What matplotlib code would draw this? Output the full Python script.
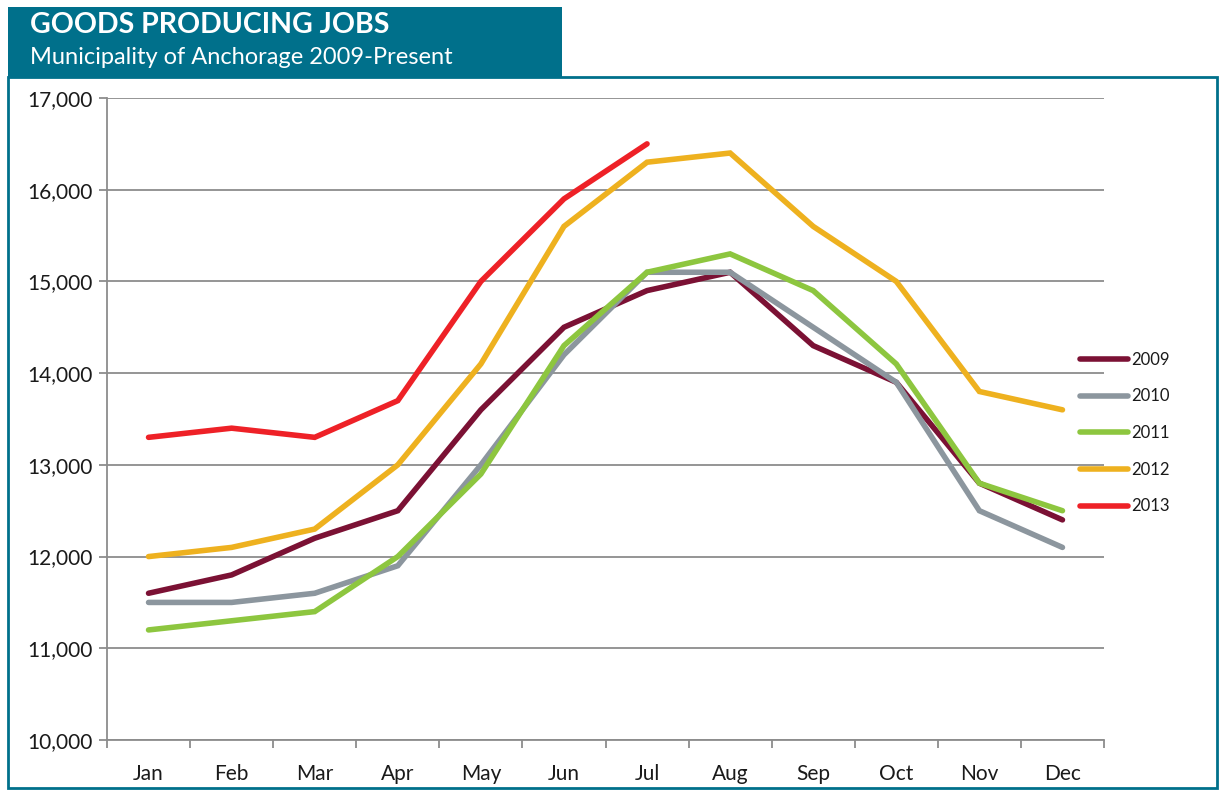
import matplotlib
matplotlib.use("Agg")
import matplotlib.pyplot as plt
from matplotlib.patches import Rectangle
from matplotlib.ticker import FuncFormatter, FixedLocator

# Daten
months = ["Jan", "Feb", "Mar", "Apr", "May", "Jun", "Jul", "Aug", "Sep", "Oct", "Nov", "Dec"]
y2009 = [11600, 11800, 12200, 12500, 13600, 14500, 14900, 15100, 14300, 13900, 12800, 12400]
y2010 = [11500, 11500, 11600, 11900, 13000, 14200, 15100, 15100, 14500, 13900, 12500, 12100]
y2011 = [11200, 11300, 11400, 12000, 12900, 14300, 15100, 15300, 14900, 14100, 12800, 12500]
y2012 = [12000, 12100, 12300, 13000, 14100, 15600, 16300, 16400, 15600, 15000, 13800, 13600]
y2013 = [13300, 13400, 13300, 13700, 15000, 15900, 16500]

series = [("2009", y2009, "#7B1134"),
          ("2010", y2010, "#8C969E"),
          ("2011", y2011, "#8DC63F"),
          ("2012", y2012, "#EEB11F"),
          ("2013", y2013, "#EE2127")]

teal = "#00708B"
plt.rcParams['font.family'] = ['Lato', 'DejaVu Sans']

fig = plt.figure(figsize=(12.24, 7.93), dpi=100)
ax = fig.add_axes([107/1224, 1-740/793, (1104-107)/1224, (740-98)/793])

for name, vals, col in series:
    ax.plot(range(len(vals)), vals, color=col, lw=4, label=name, solid_capstyle="round",
            solid_joinstyle="miter")

ax.set_xlim(-0.5, 11.5)
ax.set_ylim(10000, 17000)
ax.set_yticks(range(10000, 17001, 1000))
ax.yaxis.set_major_formatter(FuncFormatter(lambda v, p: "{:,.0f}".format(v)))
ax.grid(axis="y", color="#8C8C8C", lw=1.3)
ax.set_axisbelow(True)

ax.set_xticks(range(12))
ax.set_xticklabels(months)
ax.xaxis.set_minor_locator(FixedLocator([i + 0.5 for i in range(-1, 12)]))
ax.tick_params(axis="x", which="major", length=0, pad=17, labelsize=15, colors="#1a1a1a")
ax.tick_params(axis="x", which="minor", length=6, width=1.3, color="#8C8C8C")
ax.tick_params(axis="y", length=6, width=1.3, color="#8C8C8C", labelsize=15, labelcolor="#1a1a1a", pad=4)

for s in ["top", "right"]:
    ax.spines[s].set_visible(False)
for s in ["left", "bottom"]:
    ax.spines[s].set_color("#8C8C8C")
    ax.spines[s].set_linewidth(1.3)

leg = ax.legend(loc="center left", bbox_to_anchor=(958/997, 0.478), frameon=False,
                handlelength=2.9, handletextpad=0.15, labelspacing=1.24, fontsize=12)
for t in leg.get_texts():
    t.set_color("#1a1a1a")

# Rahmen und Kopfzeile
fig.patches.append(Rectangle((8/1224, 5/793), 1209/1224, 711/793, transform=fig.transFigure,
                             fill=False, edgecolor=teal, lw=2))
fig.patches.append(Rectangle((8/1224, 1-77/793), 554/1224, 70/793, transform=fig.transFigure,
                             facecolor=teal, edgecolor="none"))
fig.text(30/1224, 1-25/793, "GOODS PRODUCING JOBS", color="white", fontsize=20.5,
         fontweight="bold", va="center", ha="left")
fig.text(30/1224, 1-57/793, "Municipality of Anchorage 2009-Present", color="white", fontsize=17,
         va="center", ha="left")

fig.savefig("out.png", dpi=100)
